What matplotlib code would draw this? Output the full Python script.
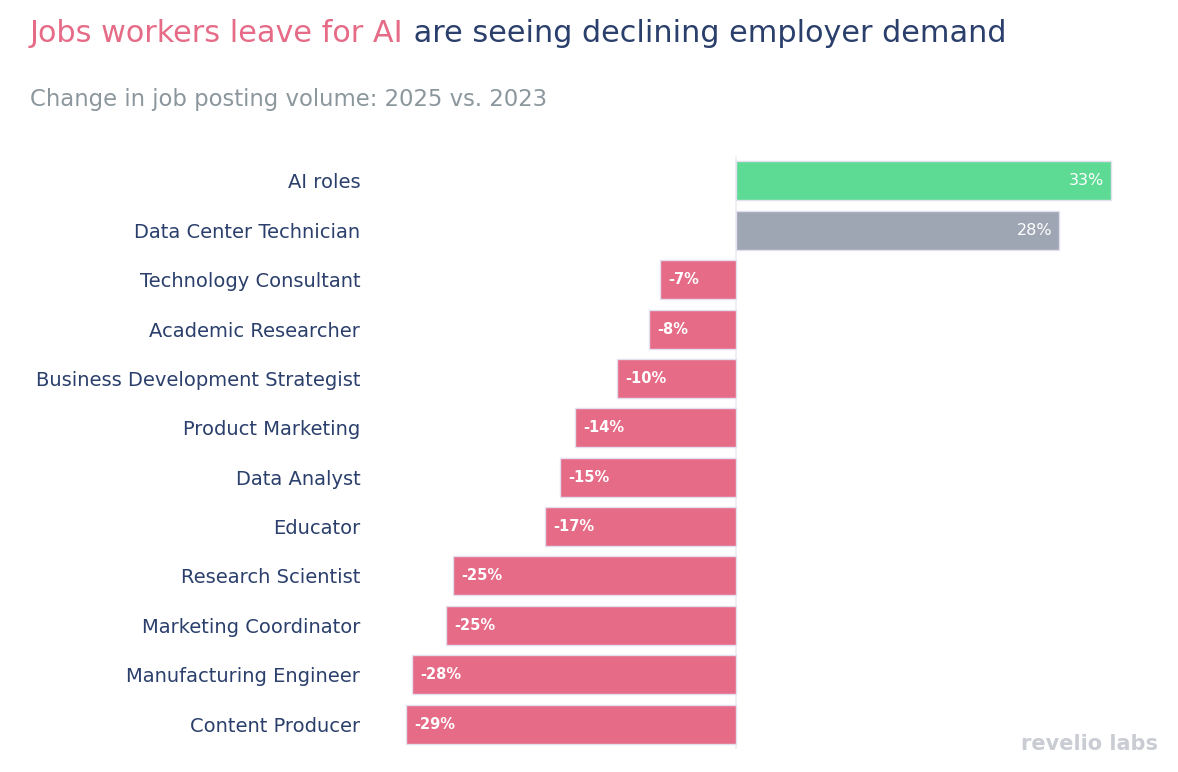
import matplotlib.pyplot as plt
import numpy as np

roles = [
    "AI roles",
    "Data Center Technician",
    "Technology Consultant",
    "Academic Researcher",
    "Business Development Strategist",
    "Product Marketing",
    "Data Analyst",
    "Educator",
    "Research Scientist",
    "Marketing Coordinator",
    "Manufacturing Engineer",
    "Content Producer",
]
change_pct = [33.0, 28.4, -6.6, -7.6, -10.4, -14.1, -15.4, -16.7, -24.8, -25.4, -28.4, -28.9]

PINK = "#e66b87"
GREEN = "#5ddb95"
GREY = "#9ea5b3"
NAVY = "#2a3f6b"

colors = [GREEN, GREY] + [PINK] * (len(roles) - 2)

plt.rcParams["font.family"] = "DejaVu Sans"

fig = plt.figure(figsize=(11.78, 7.72), dpi=100)
W, H = 1178, 772
ax = fig.add_axes([370 / W, 1 - 748.7 / H, (1125 - 370) / W, (748.7 - 156.3) / H])

y = np.arange(len(roles))
ax.barh(y, change_pct, height=0.79, color=colors, edgecolor="#e4dfee", linewidth=1, zorder=2)
ax.set_ylim(len(roles) - 0.5, -0.5)
ax.set_xlim(-32.1, 34.2)
ax.axvline(0, color="#eceef3", linewidth=1.2, zorder=1)

# value labels sit inside the bar, at its outer end
for yi, v in zip(y, change_pct):
    label = f"{v:.0f}%"
    if v >= 0:
        ax.text(v - 0.6, yi, label, ha="right", va="center", color="white", fontsize=11.5, zorder=3)
    else:
        ax.text(v + 0.7, yi, label, ha="left", va="center", color="white", fontsize=10.5,
                fontweight="bold", zorder=3)

ax.set_yticks(y)
ax.set_yticklabels(roles, fontsize=14, color=NAVY)
ax.tick_params(axis="y", length=0, pad=7)
ax.set_xticks([])
for s in ax.spines.values():
    s.set_visible(False)

# two-colour title
t1 = fig.text(30 / W, 1 - 42 / H, "Jobs workers leave for AI", color=PINK, fontsize=21.8,
              ha="left", va="baseline")
ax.annotate(" are seeing declining employer demand", xy=(1, 0), xycoords=t1,
            color=NAVY, fontsize=21.8, ha="left", va="bottom")

fig.text(30 / W, 1 - 106 / H, "Change in job posting volume: 2025 vs. 2023", color="#8b979d",
         fontsize=16.4, ha="left", va="baseline")

fig.text(1158 / W, 1 - 750 / H, "revelio labs", color="#c9cdd3", fontsize=15,
         fontweight="bold", ha="right", va="baseline")

fig.savefig("out.png", dpi=100)
